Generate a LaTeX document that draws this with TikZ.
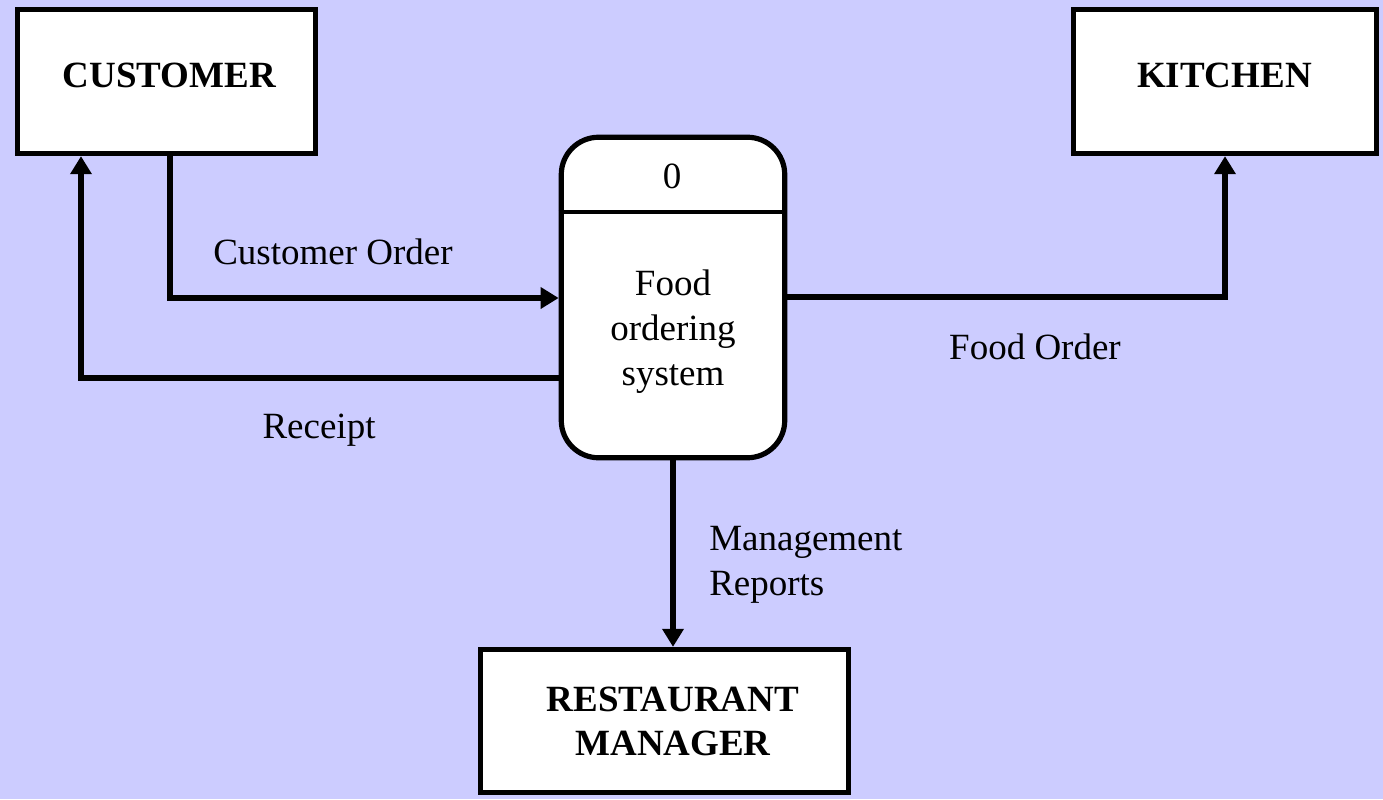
\documentclass[tikz,border=0pt]{standalone}
\usepackage{fontspec}
\setmainfont{Liberation Serif}
\usetikzlibrary{arrows.meta}
\definecolor{bg}{HTML}{CCCCFF}
\begin{document}
\begin{tikzpicture}[x=0.75pt,y=-0.75pt,
  box/.style={draw=black,fill=white,line width=3.6pt,rectangle,inner sep=0pt},
  procbox/.style={draw=black,fill=white,line width=3.9pt,rectangle,rounded corners=28pt,inner sep=0pt},
  txt/.style={font=\fontsize{27.75}{33.5}\selectfont,inner sep=0pt,align=center},
  btxt/.style={txt,font=\fontsize{27.75}{32.5}\selectfont\bfseries},
  ltxt/.style={txt,align=left},
  flow/.style={line width=3.9pt,-{Triangle[length=13.5pt,width=15.5pt]}},
  plain/.style={line width=3.9pt}]
\fill[bg] (0,0) rectangle (1383,799);
\useasboundingbox (0,0) rectangle (1383,799);
% boxes
\node[box,minimum width=223.9pt,minimum height=108.4pt] (cust) at (166.5,81.5) {};
\node[box,minimum width=227.6pt,minimum height=108.4pt] (kit) at (1225,81.5) {};
\node[procbox,minimum width=167.6pt,minimum height=240.4pt] (proc) at (673,297.5) {};
\node[box,minimum width=276.4pt,minimum height=107.6pt] (rm) at (664.5,721) {};
\coordinate (div) at (673,212);
\draw[line width=3.2pt] (proc.west |- div) -- (proc.east |- div);
% texts
\node[btxt,anchor=base] (custT) at (169.5,87) {CUSTOMER};
\node[btxt,anchor=base] (kitT) at (1224.5,88) {KITCHEN};
\node[btxt,anchor=base] (rmT) at (673,755) {RESTAURANT\\MANAGER};
\node[txt,anchor=base] (num) at (672,188) {0};
\node[txt,anchor=base] (procT) at (673,385) {Food\\ordering\\system};
% connectors
\coordinate (co) at (170,298);
\coordinate (rc) at (81,378);
\coordinate (fo) at (1225,297);
\draw[flow] (co |- cust.south) -- (co) -- (co -| proc.west);
\draw[flow] (rc -| proc.west) -- (rc) -- (rc |- cust.south);
\draw[flow] (fo -| proc.east) -- (fo) -- (fo |- kit.south);
\draw[flow] (proc.south) -- (proc.south |- rm.north);
% labels
\node[txt,anchor=base] (lco) at (333,264) {Customer Order};
\node[txt,anchor=base] (lrc) at (319,438) {Receipt};
\node[txt,anchor=base] (lfo) at (1035,359) {Food Order};
\node[ltxt,anchor=base west] (lmr) at (709,595) {Management\\Reports};
\end{tikzpicture}
\end{document}
